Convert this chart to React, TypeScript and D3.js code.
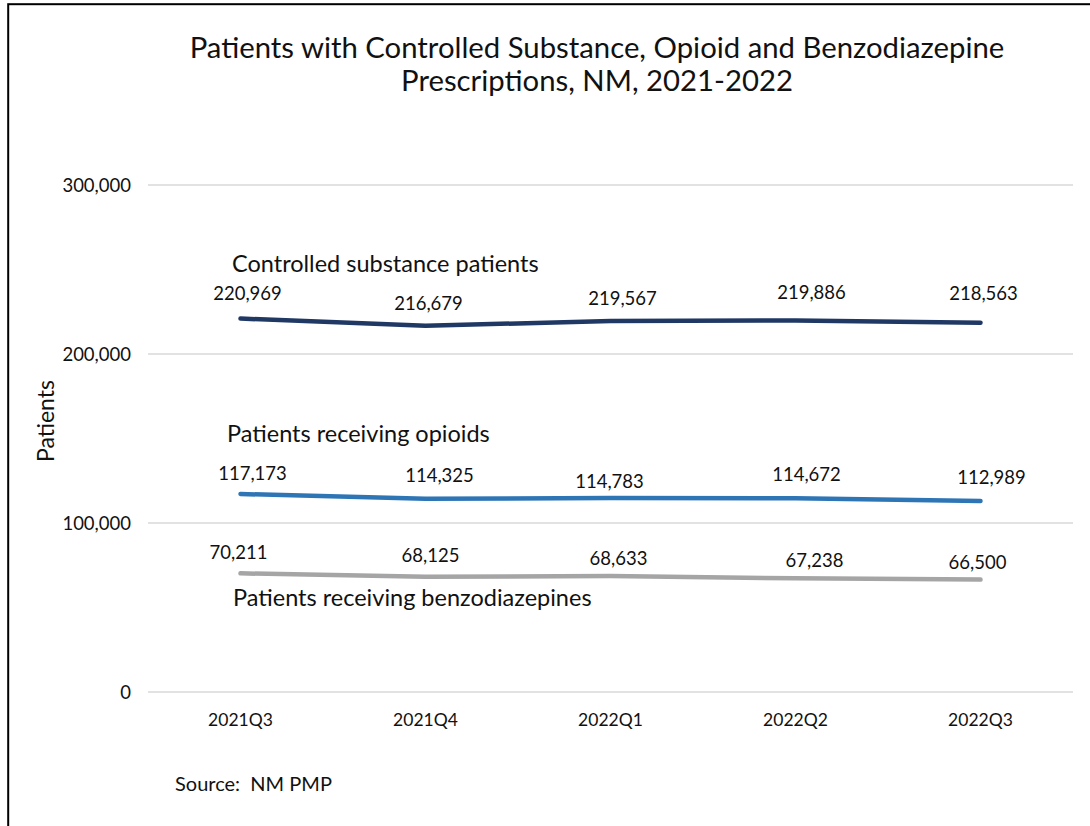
import React from 'react';
import * as d3 from 'd3';

// chart data
const quarters = ['2021Q3', '2021Q4', '2022Q1', '2022Q2', '2022Q3'];
const controlledPatients = [220969, 216679, 219567, 219886, 218563];
const opioidPatients = [117173, 114325, 114783, 114672, 112989];
const benzoPatients = [70211, 68125, 68633, 67238, 66500];
const yTicks = [0, 100000, 200000, 300000];

const titleLines = [
  'Patients with Controlled Substance, Opioid and Benzodiazepine',
  'Prescriptions, NM, 2021-2022',
];

// label placement, nudged like the hand-placed Excel labels
const series = [
  {
    name: 'Controlled substance patients',
    values: controlledPatients,
    color: '#203864',
    nameAt: { x: 232, y: 263 },
    nudge: [[7, 26], [3, 23], [12, 23], [16, 28], [3, 30]],
  },
  {
    name: 'Patients receiving opioids',
    values: opioidPatients,
    color: '#2e75b6',
    nameAt: { x: 227, y: 433 },
    nudge: [[12, 21], [14, 24], [-1, 17], [11, 24], [11, 24]],
  },
  {
    name: 'Patients receiving benzodiazepines',
    values: benzoPatients,
    color: '#a5a5a5',
    nameAt: { x: 233, y: 597 },
    nudge: [[-2, 21], [5, 22], [8, 18], [19, 18], [-3, 18]],
  },
];

const FONT = "Lato, 'Open Sans', sans-serif";

export default function App() {
  const width = 1090;
  const height = 826;
  const plot = { left: 148, right: 1073, top: 185, bottom: 692 };

  const x = d3.scalePoint<string>().domain(quarters).range([plot.left, plot.right]).padding(0.5);
  const y = d3.scaleLinear().domain([0, 300000]).range([plot.bottom, plot.top]);
  const fmt = d3.format(',');

  const line = d3.line<number>()
    .x((_, i) => x(quarters[i]) ?? 0)
    .y(d => y(d));

  return (
    <div style={{ position: 'absolute', left: 0, top: 0 }}>
      <svg width={width} height={height} style={{ display: 'block', background: '#fff' }} fontFamily={FONT}>
        {/* outer frame, cut off at right and bottom */}
        <rect x={8.2} y={4.2} width={1200} height={1000} fill="none" stroke="#000" strokeWidth={2} />

        {titleLines.map((t, i) => (
          <text key={i} x={597} y={46 + i * 33} textAnchor="middle" dominantBaseline="central" fontSize={29.3} fill="#111">
            {t}
          </text>
        ))}

        {yTicks.map(t => (
          <g key={t}>
            <line x1={plot.left} x2={plot.right} y1={y(t)} y2={y(t)} stroke="#d9d9d9" strokeWidth={1.5} />
            <text x={131} y={y(t)} textAnchor="end" dominantBaseline="central" fontSize={18.5} fill="#111">
              {fmt(t)}
            </text>
          </g>
        ))}

        {quarters.map(q => (
          <text key={q} x={x(q)} y={719} textAnchor="middle" dominantBaseline="central" fontSize={17.5} fill="#111">
            {q}
          </text>
        ))}

        <text transform={`translate(45,421) rotate(-90)`} textAnchor="middle" dominantBaseline="central" fontSize={23} fill="#111">
          Patients
        </text>

        {series.map(s => (
          <g key={s.name}>
            <path d={line(s.values) || ''} fill="none" stroke={s.color} strokeWidth={4.5} strokeLinecap="round" strokeLinejoin="round" />
            <text x={s.nameAt.x} y={s.nameAt.y} dominantBaseline="central" fontSize={23.5} fill="#111">
              {s.name}
            </text>
            {s.values.map((v, i) => (
              <text
                key={i}
                x={(x(quarters[i]) ?? 0) + s.nudge[i][0]}
                y={y(v) - s.nudge[i][1]}
                textAnchor="middle"
                dominantBaseline="central"
                fontSize={18.5}
                fill="#111"
              >
                {fmt(v)}
              </text>
            ))}
          </g>
        ))}

        <text x={175} y={783} dominantBaseline="central" fontSize={20} fill="#111">
          Source:{'\u00a0\u00a0'}NM PMP
        </text>
      </svg>
    </div>
  );
}
